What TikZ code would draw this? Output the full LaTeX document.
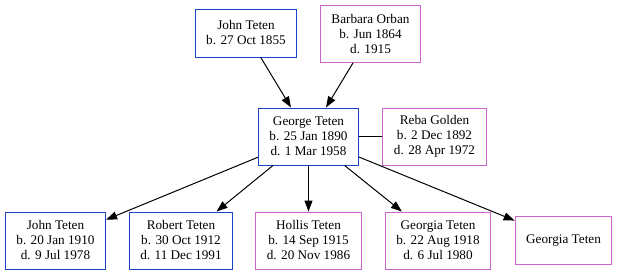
\documentclass[tikz,border=0pt]{standalone}
\usepackage{fontspec}
\setmainfont{Liberation Serif}
\usepackage{xcolor}
\usetikzlibrary{arrows.meta, positioning}
\definecolor{famBlue}{HTML}{1C44C6}
\definecolor{famPink}{HTML}{CC66CC}

\begin{document}
\begin{tikzpicture}[
        x=1pt, y=1pt,
        font=\fontsize{13.2}{15}\selectfont,
        block/.style={rectangle, draw, line width=1pt, fill=white, minimum height=48pt, inner xsep=11pt, inner ysep=2pt, align=center},
        male/.style={block, draw=famBlue},
        female/.style={block, draw=famPink},
        tall/.style={minimum height=57pt},
        arrow/.style={line width=1pt, -{Triangle[length=11pt, width=8pt]}, draw=black},
        link/.style={line width=1pt, draw=black}
    ]
        \useasboundingbox (0,0) rectangle (618,274);

        % --- Grandparents ---
        \node[male] (jt1855) at (246, 241) {John Teten\\b. 27 Oct 1855};
        \node[female, tall] (bo1864) at (370.5, 240) {Barbara Orban\\b. Jun 1864\\d. 1915};

        % --- Couple ---
        \node[male, tall] (gt1890) at (308.5, 137.5) {George Teten\\b. 25 Jan 1890\\d. 1 Mar 1958};
        \node[female, tall] (rg1892) at (434.5, 137.5) {Reba Golden\\b. 2 Dec 1892\\d. 28 Apr 1972};

        % --- Children ---
        \node[male, tall]   (jt1910) at (55.5, 33.5) {John Teten\\b. 20 Jan 1910\\d. 9 Jul 1978};
        \node[male, tall]   (rt1912) at (181, 33.5) {Robert Teten\\b. 30 Oct 1912\\d. 11 Dec 1991};
        \node[female, tall] (ht1915) at (308.5, 33.5) {Hollis Teten\\b. 14 Sep 1915\\d. 20 Nov 1986};
        \node[female, tall] (gt1918) at (438, 33.5) {Georgia Teten\\b. 22 Aug 1918\\d. 6 Jul 1980};
        \node[female]       (gtxxxx) at (563.5, 33.5) {Georgia Teten};

        \draw[arrow] (jt1855) -- (gt1890);
        \draw[arrow] (bo1864) -- (gt1890);
        \draw[link]  (gt1890) -- (rg1892);

        \draw[arrow] (gt1890) -- (jt1910);
        \draw[arrow] (gt1890) -- (rt1912);
        \draw[arrow] (gt1890) -- (ht1915);
        \draw[arrow] (gt1890) -- (gt1918);
        \draw[arrow] (gt1890) -- (gtxxxx);
    \end{tikzpicture}
\end{document}
